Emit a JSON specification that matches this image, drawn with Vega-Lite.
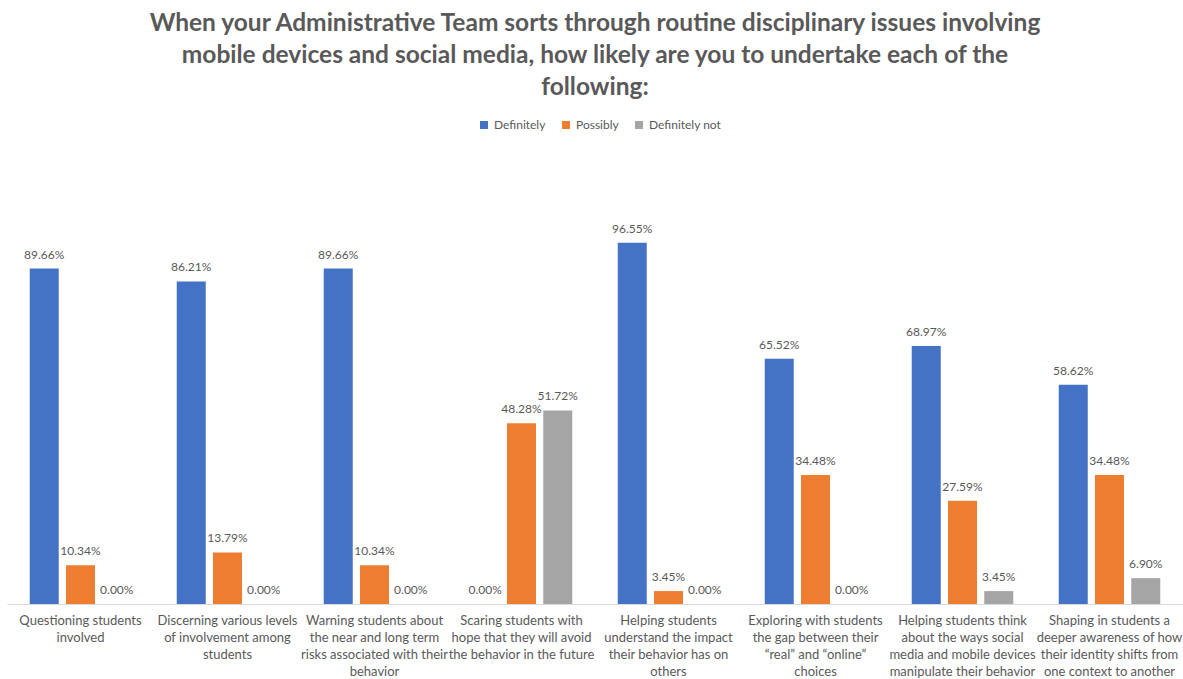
{
  "$schema": "https://vega.github.io/schema/vega-lite/v6.json",
  "width": 1176,
  "height": 449,
  "autosize": {"type": "none"},
  "padding": {"left": 7, "top": 155, "right": 0, "bottom": 75},
  "background": "white",
  "title": {
    "text": ["When your Administrative Team sorts through routine disciplinary issues involving", "mobile devices and social media, how likely are you to undertake each of the", "following:"],
    "anchor": "middle",
    "font": "Lato",
    "fontSize": 24.5,
    "fontWeight": "bold",
    "color": "#595959",
    "lineHeight": 32,
    "offset": 19
  },
  "data": {
    "values": [
      {"item": "Questioning students|involved", "response": "Definitely", "value": 0.8966},
      {"item": "Questioning students|involved", "response": "Possibly", "value": 0.1034},
      {"item": "Questioning students|involved", "response": "Definitely not", "value": 0.0},
      {"item": "Discerning various levels|of involvement among|students", "response": "Definitely", "value": 0.8621},
      {"item": "Discerning various levels|of involvement among|students", "response": "Possibly", "value": 0.1379},
      {"item": "Discerning various levels|of involvement among|students", "response": "Definitely not", "value": 0.0},
      {"item": "Warning students about|the near and long term|risks associated with their|behavior", "response": "Definitely", "value": 0.8966},
      {"item": "Warning students about|the near and long term|risks associated with their|behavior", "response": "Possibly", "value": 0.1034},
      {"item": "Warning students about|the near and long term|risks associated with their|behavior", "response": "Definitely not", "value": 0.0},
      {"item": "Scaring students with|hope that they will avoid|the behavior in the future", "response": "Definitely", "value": 0.0},
      {"item": "Scaring students with|hope that they will avoid|the behavior in the future", "response": "Possibly", "value": 0.4828},
      {"item": "Scaring students with|hope that they will avoid|the behavior in the future", "response": "Definitely not", "value": 0.5172},
      {"item": "Helping students|understand the impact|their behavior has on|others", "response": "Definitely", "value": 0.9655},
      {"item": "Helping students|understand the impact|their behavior has on|others", "response": "Possibly", "value": 0.0345},
      {"item": "Helping students|understand the impact|their behavior has on|others", "response": "Definitely not", "value": 0.0},
      {"item": "Exploring with students|the gap between their|“real” and “online”|choices", "response": "Definitely", "value": 0.6552},
      {"item": "Exploring with students|the gap between their|“real” and “online”|choices", "response": "Possibly", "value": 0.3448},
      {"item": "Exploring with students|the gap between their|“real” and “online”|choices", "response": "Definitely not", "value": 0.0},
      {"item": "Helping students think|about the ways social|media and mobile devices|manipulate their behavior", "response": "Definitely", "value": 0.6897},
      {"item": "Helping students think|about the ways social|media and mobile devices|manipulate their behavior", "response": "Possibly", "value": 0.2759},
      {"item": "Helping students think|about the ways social|media and mobile devices|manipulate their behavior", "response": "Definitely not", "value": 0.0345},
      {"item": "Shaping in students a|deeper awareness of how|their identity shifts from|one context to another", "response": "Definitely", "value": 0.5862},
      {"item": "Shaping in students a|deeper awareness of how|their identity shifts from|one context to another", "response": "Possibly", "value": 0.3448},
      {"item": "Shaping in students a|deeper awareness of how|their identity shifts from|one context to another", "response": "Definitely not", "value": 0.069}
    ]
  },
  "encoding": {
    "x": {
      "field": "item",
      "type": "nominal",
      "sort": null,
      "scale": {"paddingInner": 0.26, "paddingOuter": 0.13},
      "axis": {
        "title": null,
        "labelAngle": 0,
        "labelExpr": "split(datum.value, '|')",
        "labelFont": "Lato",
        "labelFontSize": 13,
        "labelColor": "#595959",
        "labelLineHeight": 17,
        "labelPadding": 10,
        "labelLimit": 0,
        "ticks": false,
        "domainColor": "#D9D9D9",
        "domainWidth": 1
      }
    },
    "xOffset": {
      "field": "response",
      "type": "nominal",
      "sort": ["Definitely", "Possibly", "Definitely not"],
      "scale": {"paddingInner": 0.2, "paddingOuter": 0.1}
    },
    "y": {
      "field": "value",
      "type": "quantitative",
      "scale": {"domain": [0, 1.2], "nice": false},
      "axis": null
    },
    "color": {
      "field": "response",
      "type": "nominal",
      "sort": ["Definitely", "Possibly", "Definitely not"],
      "scale": {"domain": ["Definitely", "Possibly", "Definitely not"], "range": ["#4472C4", "#ED7D31", "#A5A5A5"]},
      "legend": {
        "title": null,
        "orient": "none",
        "direction": "horizontal",
        "legendX": 471,
        "legendY": -36,
        "symbolType": "square",
        "symbolSize": 64,
        "symbolStrokeWidth": 0,
        "labelFont": "Lato",
        "labelFontSize": 12,
        "labelColor": "#595959",
        "columnPadding": 14,
        "labelOffset": 4
      }
    }
  },
  "layer": [
    {"mark": {"type": "bar", "stroke": null}},
    {
      "mark": {"type": "text", "dy": -14, "font": "Lato", "fontSize": 12, "color": "#595959", "baseline": "middle"},
      "encoding": {
        "text": {"field": "value", "type": "quantitative", "format": ".2%"},
        "color": {"value": "#595959"}
      }
    }
  ],
  "config": {
    "view": {"stroke": null}
  }
}
